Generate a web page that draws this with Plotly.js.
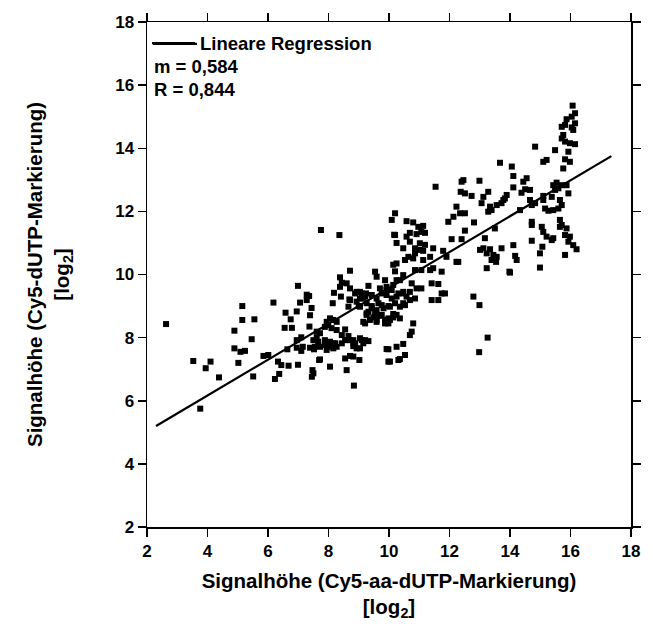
<!DOCTYPE html>
<html>
<head>
<meta charset="utf-8">
<script src="https://cdn.plot.ly/plotly-3.0.1.min.js"></script>
<style>
html,body{margin:0;padding:0;background:#fff;}
#chart{width:653px;height:631px;}
#chart .xtick text, #chart .ytick text { font-weight: bold !important; }
</style>
</head>
<body>
<div id="chart"></div>
<script>
// Scatter points: x = Signalhöhe (Cy5-aa-dUTP), y = Signalhöhe (Cy5-dUTP), log2
const ptsX = [
2.63,3.53,3.76,3.94,4.10,4.38,4.89,4.89,5.02,5.09,5.15,5.15,5.24,5.46,5.51,5.55,5.85,6.01,6.18,6.23,
6.33,6.37,6.44,6.55,6.58,6.64,6.68,6.75,6.79,6.95,6.95,6.95,6.99,6.99,7.06,7.10,7.10,7.15,7.28,7.28,
7.36,7.37,7.39,7.39,7.44,7.45,7.47,7.50,7.52,7.61,7.69,7.75,7.50,7.66,7.61,7.72,7.72,7.88,7.88,7.94,
7.94,7.99,7.72,8.05,7.55,7.88,7.99,
8.05,8.05,8.10,8.14,8.16,8.16,8.18,8.22,8.27,8.27,8.36,8.38,8.38,8.41,8.44,8.44,8.55,8.55,8.55,8.60,
8.60,8.66,8.66,8.69,8.71,8.71,8.71,8.71,8.82,8.82,8.82,8.82,8.88,8.93,8.93,8.16,8.27,8.44,8.71,8.88,
8.93,8.84,
9.00,9.02,9.04,9.04,9.04,9.04,9.04,9.10,9.15,9.15,9.15,9.21,9.21,9.24,9.26,9.26,9.32,9.32,9.37,9.43,
9.43,9.43,9.54,9.54,9.54,9.59,9.59,9.59,9.59,9.65,9.70,9.76,9.76,9.76,9.82,9.87,9.87,9.92,9.92,9.92,
9.92,9.98,9.98,9.98,9.98,9.10,9.32,9.26,9.48,9.21,9.59,9.70,9.87,9.98,
10.03,10.03,10.03,10.09,10.09,10.09,10.14,10.14,10.14,10.17,10.20,10.20,10.20,10.25,10.25,10.25,10.25,10.25,10.25,10.31,
10.31,10.36,10.36,10.36,10.36,10.47,10.47,10.47,10.47,10.47,10.47,10.53,10.53,10.53,10.58,10.58,10.58,10.64,10.69,10.69,
10.69,10.69,10.69,10.75,10.75,10.80,10.80,10.80,10.86,10.86,10.86,10.86,10.91,10.91,10.97,10.14,10.20,
11.02,11.02,11.07,11.07,11.07,11.13,11.13,11.13,11.19,11.19,11.36,11.36,11.41,11.41,11.46,11.46,11.54,11.63,11.63,11.74,
11.74,11.79,11.85,11.90,11.96,
12.07,12.13,12.23,12.23,12.35,12.37,12.40,12.40,12.46,12.51,12.51,12.51,12.73,12.79,12.81,12.98,12.99,12.99,13.01,13.06,
13.12,13.12,13.17,13.23,13.23,13.26,13.28,13.28,13.34,13.34,13.39,13.39,13.45,13.50,13.54,13.56,13.56,13.67,13.72,13.72,
13.78,13.83,13.89,13.98,12.29,
14.00,14.06,14.11,14.11,14.11,14.17,14.22,14.33,14.38,14.44,14.50,14.55,14.66,14.66,14.72,14.72,14.72,14.72,14.83,14.83,
14.99,14.99,15.05,15.07,15.10,15.10,15.10,15.10,15.16,15.21,15.21,15.27,15.38,15.38,15.43,15.43,15.43,15.49,15.49,15.54,
15.60,15.60,15.65,15.65,15.65,15.71,15.71,15.71,15.71,15.71,15.76,15.76,15.82,15.82,15.82,15.82,15.82,15.87,15.87,15.87,
15.93,15.93,15.93,15.98,15.98,15.98,16.04,16.04,16.07,16.09,16.09,16.15,16.15,16.15,16.20
];
const ptsY = [
8.43,7.26,5.75,7.03,7.24,6.74,8.22,7.66,7.20,7.55,9.00,8.56,7.58,7.95,6.77,8.58,7.42,7.45,9.11,6.69,
7.24,6.85,7.13,8.31,8.79,7.63,7.11,8.58,8.31,8.83,7.92,7.68,9.64,7.14,9.11,8.01,7.58,7.71,9.36,9.19,
9.32,8.35,8.71,7.68,8.94,6.76,6.97,6.87,7.63,8.01,7.29,11.41,7.92,7.87,8.19,8.14,7.71,7.92,8.34,8.50,
7.61,8.40,7.31,7.08,7.71,7.77,7.71,
8.61,7.87,8.30,9.09,8.56,7.66,9.42,7.82,8.24,8.50,11.25,9.91,9.61,9.30,9.74,8.08,8.26,7.92,7.34,9.72,
6.97,8.98,8.05,9.21,10.12,9.56,9.19,7.42,7.92,7.73,7.40,7.82,9.40,9.45,9.14,7.82,7.71,7.82,7.92,7.82,
7.66,6.48,
9.00,7.29,9.45,9.24,8.98,7.98,7.66,9.40,9.24,8.50,7.82,9.30,7.92,9.40,9.09,8.72,9.64,8.82,8.56,9.35,
9.00,8.93,10.09,8.82,8.66,9.93,9.24,8.87,8.50,9.09,9.56,9.40,9.03,8.72,8.93,9.82,8.45,9.61,9.51,9.35,
7.64,9.00,8.61,7.63,7.24,7.92,7.89,8.77,8.64,8.45,8.56,8.69,8.56,8.45,
8.98,8.56,7.24,11.73,9.51,9.24,9.67,8.75,8.64,11.26,11.94,11.25,9.09,11.00,10.35,9.82,9.30,8.72,7.71,9.40,
7.29,9.82,8.98,8.61,7.32,10.83,9.98,9.45,9.40,9.09,7.80,10.46,9.03,7.45,11.69,11.20,9.30,10.56,11.32,11.04,
9.45,9.19,8.08,9.72,8.19,11.65,10.51,8.45,10.83,10.67,10.14,9.24,11.28,9.56,11.51,10.31,10.10,
10.99,10.78,11.35,10.14,9.56,11.54,10.75,10.46,11.32,10.94,10.56,10.14,9.72,9.19,10.83,10.20,12.78,9.70,9.19,10.09,
9.40,10.75,9.40,10.56,11.67,
11.12,11.83,12.15,10.40,11.94,12.62,12.94,11.12,12.99,12.57,11.94,11.39,12.49,9.30,11.65,7.54,12.97,9.03,10.78,12.26,
12.46,10.83,11.15,10.67,10.20,8.00,12.62,11.99,12.15,10.80,12.04,10.46,10.62,11.46,10.40,12.20,10.56,13.54,10.83,12.26,
12.36,12.41,12.52,10.09,10.40,
10.06,13.42,13.12,12.76,10.93,10.59,10.46,12.04,12.59,12.94,12.70,13.05,12.68,12.36,12.20,11.67,11.57,11.07,14.05,12.26,
10.67,10.22,11.51,10.88,13.57,12.49,12.36,11.35,12.09,13.63,11.20,12.02,12.46,11.09,12.83,12.04,11.15,13.94,12.68,12.91,
12.73,12.09,12.36,11.73,11.51,14.68,14.31,12.83,12.20,11.57,14.42,13.36,14.74,14.21,13.65,11.25,10.62,14.92,12.83,11.46,
13.89,12.57,11.04,14.16,13.57,11.20,15.00,14.66,15.35,14.58,10.93,15.11,14.79,14.13,10.80
];
// Regression line end points (as drawn in the figure)
const regX = [2.3, 17.35];
const regY = [5.2, 13.75];
const legendName = "Lineare Regression";
const statTexts = ["m = 0,584", "R = 0,844"];
const tickVals = [2,4,6,8,10,12,14,16,18];
const tickText = tickVals.map(v => '<b>' + v + '</b>');

const FONT = "Liberation Sans, Arial, Helvetica, sans-serif";

const traces = [
  {x: ptsX, y: ptsY, type: 'scatter', mode: 'markers', showlegend: false,
   marker: {symbol: 'square', size: 6, color: '#000'}},
  {x: regX, y: regY, type: 'scatter', mode: 'lines', name: '<b>' + legendName + '</b>',
   line: {color: '#000', width: 2.2}}
];

const axisCommon = {
  range: [2, 18], tickmode: 'array', tickvals: tickVals, ticktext: tickText,
  ticks: 'outside', ticklen: 8, tickwidth: 1.5,
  tickcolor: '#000', showline: true, linecolor: '#000', linewidth: 1.5, mirror: 'ticks',
  showgrid: false, zeroline: false,
  tickfont: {family: FONT, size: 17, color: '#000', weight: 'bold'}
};

const layout = {
  width: 653, height: 631,
  margin: {l: 147, r: 22, t: 22, b: 104},
  paper_bgcolor: '#fff', plot_bgcolor: '#fff',
  font: {family: FONT, color: '#000'},
  xaxis: Object.assign({}, axisCommon, {
    title: {text: '<b>Signalhöhe (Cy5-aa-dUTP-Markierung)</b><br><b>[log<sub>2</sub>]</b>', standoff: 13,
            font: {family: FONT, size: 20.5, color: '#000'}}
  }),
  yaxis: Object.assign({}, axisCommon, {
    title: {text: '<b>Signalhöhe (Cy5-dUTP-Markierung)</b><br><b>[log<sub>2</sub>]</b>', standoff: 40,
            font: {family: FONT, size: 20.5, color: '#000'}}
  }),
  legend: {x: 0.0, y: 0.995, xanchor: 'left', yanchor: 'top', bgcolor: 'rgba(0,0,0,0)',
           font: {family: FONT, size: 18.5, color: '#000'}, tracegroupgap: 0, itemwidth: 43},
  shapes: [
    {type: 'line', xref: 'paper', yref: 'paper', x0: 0.0124, x1: 0.1033,
     y0: 0.9565, y1: 0.9565, line: {color: '#000', width: 2.2}}
  ],
  annotations: statTexts.map((t, i) => ({
    text: '<b>' + t + '</b>', xref: 'paper', yref: 'paper', x: 0.010, y: 0.911 - i * 0.044,
    xanchor: 'left', yanchor: 'middle', showarrow: false,
    font: {family: FONT, size: 18.5, color: '#000'}
  }))
};

Plotly.newPlot('chart', traces, layout, {displayModeBar: false, staticPlot: true});
</script>
</body>
</html>
